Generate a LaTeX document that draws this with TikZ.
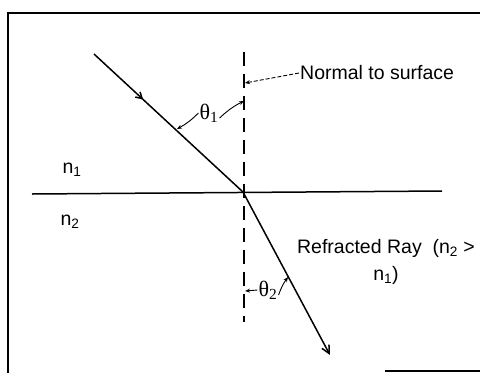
\documentclass[tikz,border=0pt]{standalone}
\usepackage{fontspec}
\setmainfont{Liberation Sans}
\newfontfamily\grkfont{Liberation Serif}
\usetikzlibrary{arrows.meta,decorations.markings}

\begin{document}
\begin{tikzpicture}[x=1pt,y=-1pt,>={Stealth[length=5pt,width=4pt]},
  ray/.style={line width=1.5pt},
  normalline/.style={line width=1.4pt,dash pattern=on 14pt off 8pt},
  lead/.style={line width=0.9pt,->},
  lbl/.style={font=\fontsize{19.5}{27}\selectfont,inner sep=1pt},
  anglbl/.style={font=\grkfont\fontsize{22}{24}\selectfont,inner sep=1pt}]
\useasboundingbox (0,0) rectangle (480,373);
% frame
\draw[line width=1.8pt] (8,373) -- (8,13) -- (480,13);
\draw[line width=1.5pt] (385,371) -- (480,371);
% surface, normal and rays
\coordinate (src) at (94,54);
\coordinate (hit) at (243,192);
\coordinate (dst) at (330,355);
\coordinate (ntop) at (244,52);
\coordinate (nbot) at (244,322);
\coordinate (sleft) at (32,194);
\coordinate (sright) at (442,191);
\draw[ray] (sleft) -- (sright);
\draw[normalline] (ntop) -- (nbot);
\draw[ray,postaction={decorate},decoration={markings,mark=at position 0.33 with {\arrow{Straight Barb[length=6pt,width=7pt]}}}] (src) -- (hit);
\draw[ray,-{Straight Barb[length=8pt,width=8pt]}] (hit) -- (dst);
% labels
\node[lbl,anchor=west] (normtxt) at (299,73) {Normal to surface};
\coordinate (nrm1) at (245,83);
\draw[lead,dash pattern=on 4pt off 2pt] (normtxt.west) -- (nrm1);
\node[anglbl] (th1) at (209,113) {θ\textsubscript{1}};
\coordinate (rayp1) at (177,129);
\coordinate (nrm2) at (244,101);
\draw[lead] (th1.west) to[bend left=8] (rayp1);
\draw[lead] ([yshift=-5pt]th1.east) to[bend left=8] (nrm2);
\node[anglbl] (th2) at (268,290) {θ\textsubscript{2}};
\coordinate (nrm3) at (245,291);
\coordinate (rayp2) at (288,277);
\draw[lead] (th2.west) -- (nrm3);
\draw[lead] ([yshift=-5pt]th2.east) to[bend left=8] (rayp2);
\node[lbl] (n1) at (72,170) {n\textsubscript{1}};
\node[lbl] (n2) at (70,222) {n\textsubscript{2}};
\node[lbl,align=center] (refr) at (386,262) {Refracted Ray\ \ (n\textsubscript{2} >\\n\textsubscript{1})};
\end{tikzpicture}
\end{document}
